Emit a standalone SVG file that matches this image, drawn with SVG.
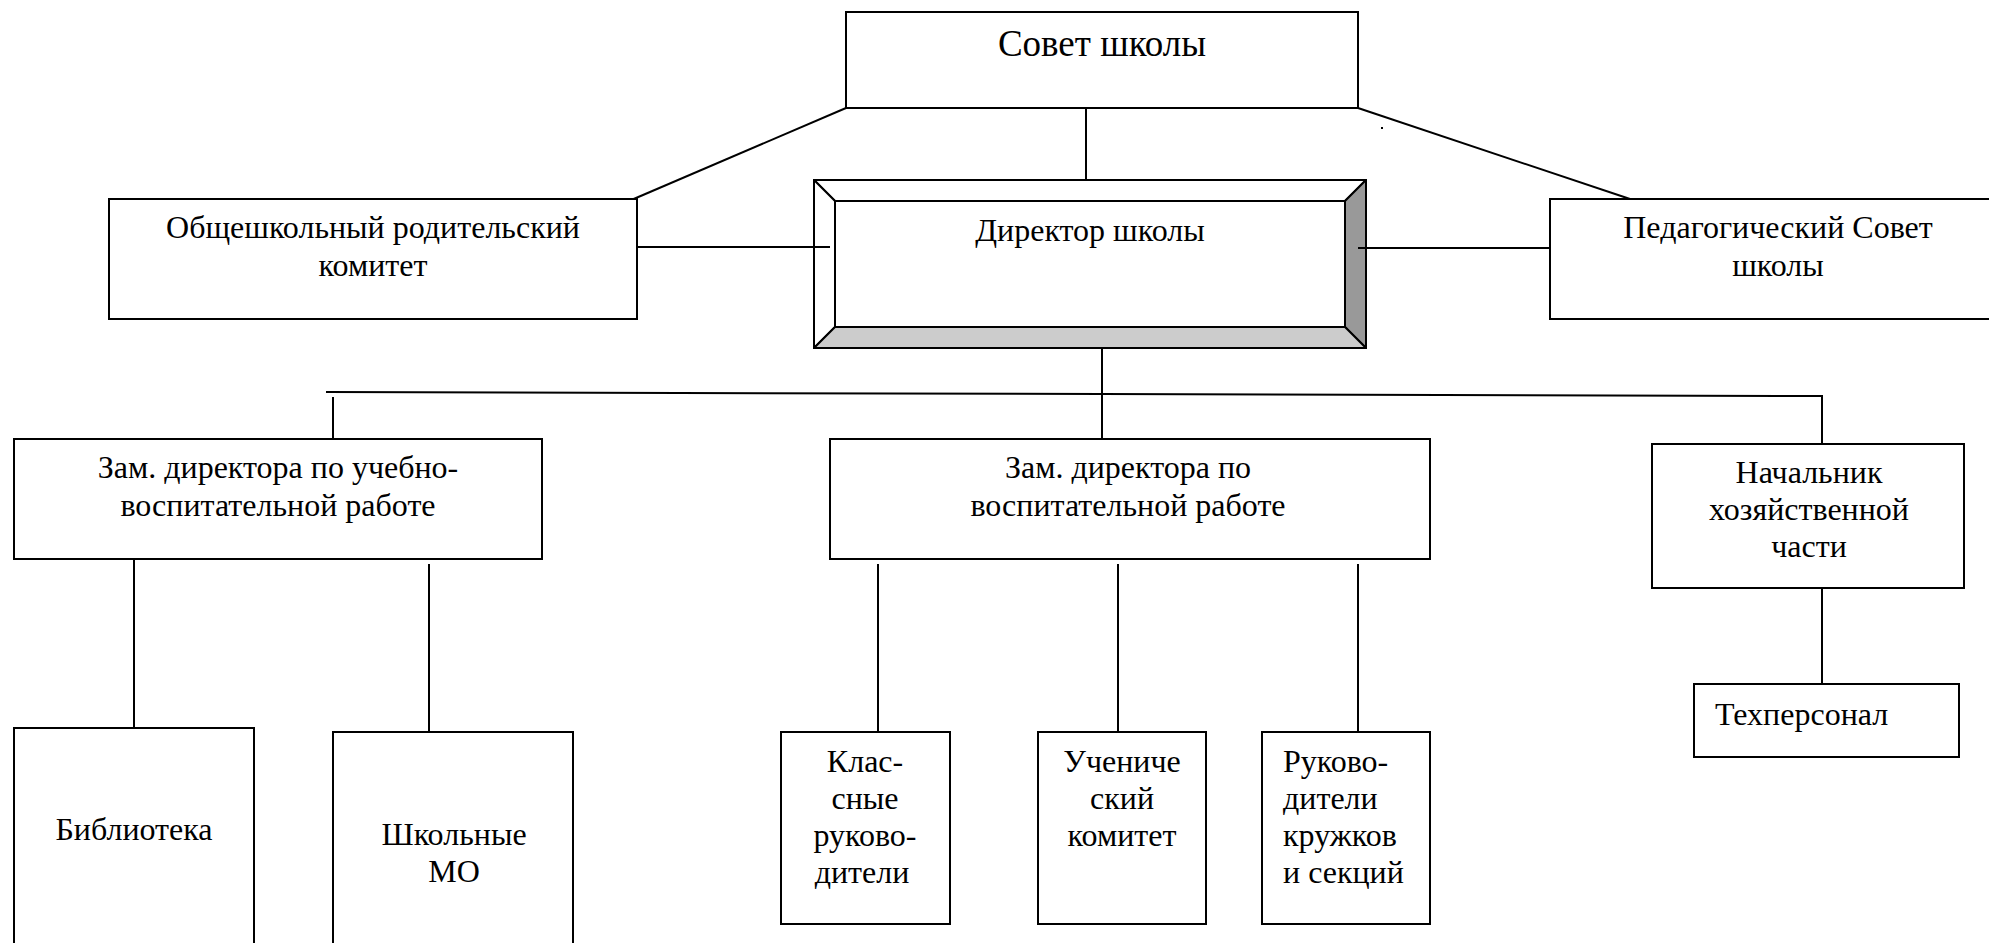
<svg xmlns="http://www.w3.org/2000/svg" width="1989" height="943" viewBox="0 0 1989 943">
<style>
.box{fill:#fff;stroke:#000;stroke-width:2}
.ln{stroke:#000;stroke-width:2;fill:none}
text{font-family:'Liberation Serif','Times New Roman','DejaVu Serif',serif;font-size:32px;fill:#000}
.c{text-anchor:middle}
.big{font-size:37px}
</style>
<rect x="0" y="0" width="1989" height="943" fill="#fff"/>
<g id="connectors">
<line class="ln" x1="846" y1="108" x2="622" y2="204"/>
<line class="ln" x1="1086" y1="108" x2="1086" y2="180"/>
<line class="ln" x1="1358" y1="108" x2="1645" y2="204"/>
<line class="ln" x1="637" y1="247" x2="830" y2="247"/>
<line class="ln" x1="1358" y1="248" x2="1550" y2="248"/>
<polyline class="ln" points="326,392 1822,396 1822,444"/>
<line class="ln" x1="1102" y1="348" x2="1102" y2="443"/>
<line class="ln" x1="333" y1="397" x2="333" y2="443"/>
<line class="ln" x1="134" y1="559" x2="134" y2="728"/>
<line class="ln" x1="429" y1="564" x2="429" y2="732"/>
<line class="ln" x1="878" y1="564" x2="878" y2="732"/>
<line class="ln" x1="1118" y1="564" x2="1118" y2="732"/>
<line class="ln" x1="1358" y1="564" x2="1358" y2="732"/>
<line class="ln" x1="1822" y1="588" x2="1822" y2="684"/>
</g>
<rect x="1381" y="127" width="2" height="2" fill="#000"/>
<g id="sovet">
<rect class="box" x="846" y="12" width="512" height="96"/>
<text class="c big" x="1102" y="56" font-family="Liberation Serif">Совет школы</text>
</g>
<g id="direktor">
<rect class="box" x="814" y="180" width="552" height="168"/>
<polygon points="814,180 1366,180 1345,201 835,201" fill="#fff" stroke="#000" stroke-width="2" stroke-linejoin="round"/>
<polygon points="814,180 835,201 835,327 814,348" fill="#fff" stroke="#000" stroke-width="2" stroke-linejoin="round"/>
<polygon points="1366,180 1366,348 1345,327 1345,201" fill="#999" stroke="#000" stroke-width="2" stroke-linejoin="round"/>
<polygon points="814,348 835,327 1345,327 1366,348" fill="#ccc" stroke="#000" stroke-width="2" stroke-linejoin="round"/>
<text class="c" x="1090" y="241">Директор школы</text>
</g>
<line class="ln" x1="814" y1="247" x2="830" y2="247"/>
<line class="ln" x1="1358" y1="248" x2="1366" y2="248"/>
<g id="roditeli">
<rect class="box" x="109" y="199" width="528" height="120"/>
<text class="c" x="373" y="238">Общешкольный родительский</text>
<text class="c" x="373" y="276">комитет</text>
</g>
<g id="pedsovet">
<rect class="box" x="1550" y="199" width="460" height="120"/>
<text class="c" x="1778" y="238">Педагогический Совет</text>
<text class="c" x="1778" y="276">школы</text>
</g>
<g id="zam-uvr">
<rect class="box" x="14" y="439" width="528" height="120"/>
<text class="c" x="278" y="478">Зам. директора по учебно-</text>
<text class="c" x="278" y="516">воспитательной работе</text>
</g>
<g id="zam-vr">
<rect class="box" x="830" y="439" width="600" height="120"/>
<text class="c" x="1128" y="478">Зам. директора по</text>
<text class="c" x="1128" y="516">воспитательной работе</text>
</g>
<g id="nachalnik">
<rect class="box" x="1652" y="444" width="312" height="144"/>
<text class="c" x="1809" y="483">Начальник</text>
<text class="c" x="1809" y="520">хозяйственной</text>
<text class="c" x="1809" y="557">части</text>
</g>
<g id="biblioteka">
<rect class="box" x="14" y="728" width="240" height="230"/>
<text class="c" x="134" y="840">Библиотека</text>
</g>
<g id="shkolnye-mo">
<rect class="box" x="333" y="732" width="240" height="230"/>
<text class="c" x="454" y="845">Школьные</text>
<text class="c" x="454" y="882">МО</text>
</g>
<g id="klassnye">
<rect class="box" x="781" y="732" width="169" height="192"/>
<text class="c" x="865" y="772">Клас-</text>
<text class="c" x="865" y="809">сные</text>
<text class="c" x="865" y="846">руково-</text>
<text class="c" x="862" y="883">дители</text>
</g>
<g id="uchenicheskiy">
<rect class="box" x="1038" y="732" width="168" height="192"/>
<text class="c" x="1122" y="772">Учениче</text>
<text class="c" x="1122" y="809">ский</text>
<text class="c" x="1122" y="846">комитет</text>
</g>
<g id="kruzhki">
<rect class="box" x="1262" y="732" width="168" height="192"/>
<text x="1283" y="772">Руково-</text>
<text x="1283" y="809">дители</text>
<text x="1283" y="846">кружков</text>
<text x="1283" y="883">и секций</text>
</g>
<g id="tehpersonal">
<rect class="box" x="1694" y="684" width="265" height="73"/>
<text x="1715" y="725">Техперсонал</text>
</g>
</svg>
